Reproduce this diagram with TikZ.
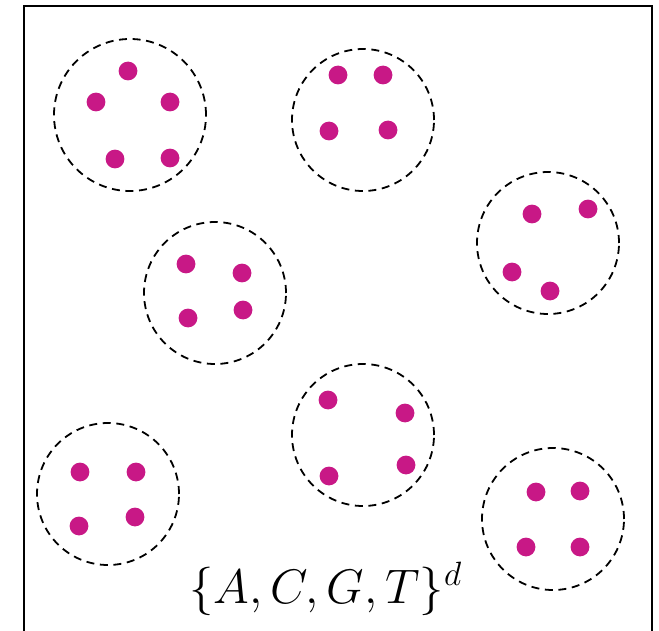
\documentclass[tikz,border=0pt]{standalone}
\usepackage{amsmath}
\usepackage{tikz}
\usepackage{xcolor}
\usetikzlibrary{positioning}
\definecolor{seqmagenta}{RGB}{200,24,134}
\tikzset{
  seqframe/.style={draw=black, line width=1pt},
  seqcluster/.style={draw=black, line width=0.9pt, dash pattern=on 4pt off 2.8pt, circle, inner sep=0pt},
  seqdot/.style={fill=seqmagenta, circle, inner sep=0pt, minimum size=9.4pt}
}
\begin{document}
\begin{tikzpicture}[x=0.5pt, y=-0.5pt]
  \useasboundingbox (0,0) rectangle (659,631);
  \node[seqframe, minimum width=314pt, minimum height=317.5pt, anchor=north west, inner sep=0pt] (frame) at (22.5,5) {};

  % clusters: name/x/y/radius
  \foreach \cname/\cx/\cy/\cr in {k1/130/115/76, k2/363/120/71, k3/548/243/71, k4/215/293/71,
                                  k5/363/435/71, k6/108/494/71, k7/553/519/71}
    \node[seqcluster, minimum size=\cr pt] (\cname) at (\cx,\cy) {};

  % sequences inside the clusters
  \foreach \dname/\dx/\dy in {
      a1/128/71, a2/96/102, a3/170/102, a4/115/159, a5/170/158,
      b1/338/75, b2/383/75, b3/329/131, b4/388/130,
      c1/532/214, c2/588/209, c3/512/272, c4/550/291,
      d1/186/264, d2/242/273, d3/188/318, d4/243/310,
      e1/328/400, e2/405/413, e3/329/476, e4/406/465,
      f1/80/472, f2/136/472, f3/79/526, f4/135/517,
      g1/536/492, g2/580/491, g3/526/547, g4/580/547}
    \node[seqdot] (\dname) at (\dx,\dy) {};

  \node[anchor=base, inner sep=0pt, font=\huge, scale=1.17] (alphabet) at (326,603) {$\{A,C,G,T\}^d$};
\end{tikzpicture}
\end{document}
